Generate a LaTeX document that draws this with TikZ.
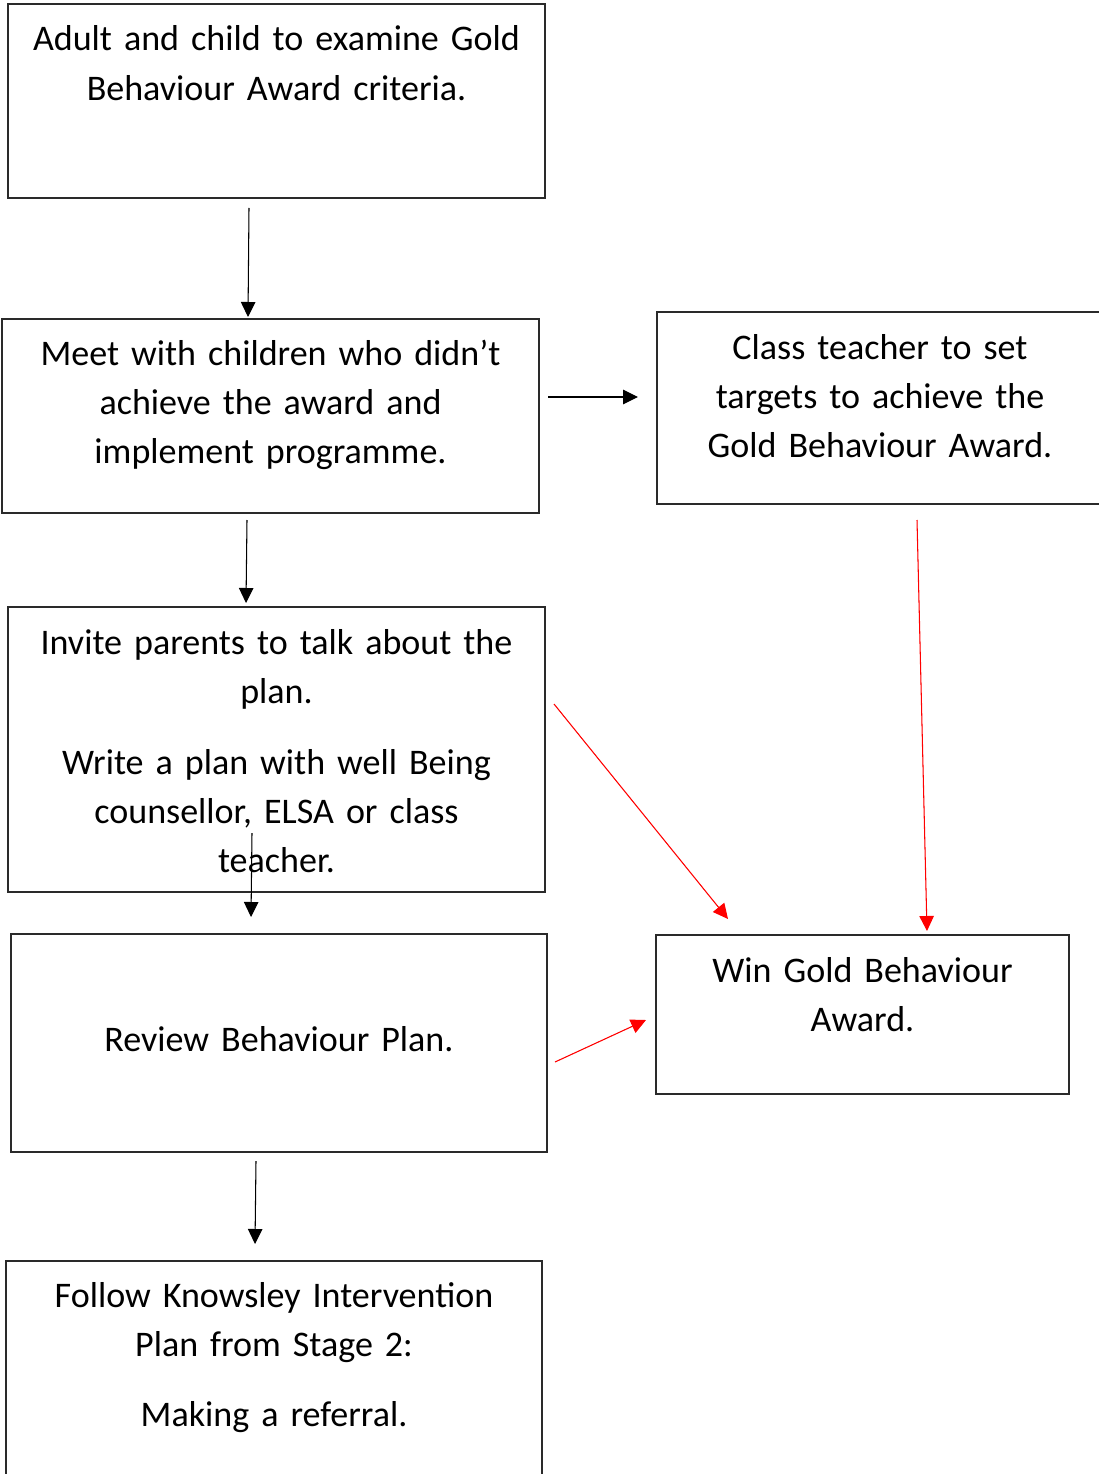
\documentclass[tikz,border=0pt]{standalone}
\usepackage{fontspec}
\setmainfont{Carlito}
\usepackage{tikz}
\usetikzlibrary{arrows.meta}
\definecolor{FlowInk}{HTML}{000000}
\definecolor{FlowRed}{HTML}{FF0000}
\definecolor{BoxLine}{HTML}{2A2A2A}
\tikzset{
  >={Triangle[length=3mm,width=2.9mm]},
  flow/.style={->,line width=0.6pt,draw=FlowInk,fill=FlowInk},
  redflow/.style={->,line width=0.6pt,draw=FlowRed,fill=FlowRed},
  box/.style={draw=BoxLine,line width=0.7pt,inner sep=0pt},
  boxtext/.style={anchor=base,align=center,inner sep=0pt,text width=10.4cm,
    font=\fontsize{20.5}{27.9}\selectfont}
}
\begin{document}
\begin{tikzpicture}
  \useasboundingbox (0,0) rectangle (21.98,-29.48);
  \begin{scope}
    \clip (0,0) rectangle (21.98,-29.48);
    % boxes
    \node[box,minimum width=10.74cm,minimum height=3.88cm] (criteria) at (5.53,-2.02) {};
    \node[box,minimum width=10.74cm,minimum height=3.88cm] (meet) at (5.41,-8.32) {};
    \node[box,minimum width=8.92cm,minimum height=3.84cm] (targets) at (17.6,-8.16) {};
    \node[box,minimum width=10.74cm,minimum height=5.70cm] (parents) at (5.53,-14.99) {};
    \node[box,minimum width=10.72cm,minimum height=4.36cm] (review) at (5.58,-20.86) {};
    \node[box,minimum width=8.26cm,minimum height=3.18cm] (award) at (17.25,-20.29) {};
    \node[box,minimum width=10.72cm,minimum height=4.38cm] (referral) at (5.48,-27.41) {};
  \end{scope}

  % texts
  \node[boxtext] (criteria-txt) at (5.53,-1.02) {Adult and child to examine Gold\\Behaviour Award criteria.};
  \node[boxtext] (meet-txt) at (5.41,-7.30) {Meet with children who didn’t\\achieve the award and\\implement programme.};
  \node[boxtext,text width=8.6cm] (targets-txt) at (17.6,-7.18) {Class teacher to set\\targets to achieve the\\Gold Behaviour Award.};
  \node[boxtext] (parents-txt) at (5.53,-13.08) {Invite parents to talk about the\\plan.\\[0.44cm]Write a plan with well Being\\counsellor, ELSA or class\\teacher.};
  \node[boxtext] (review-txt) at (5.58,-21.02) {Review Behaviour Plan.};
  \node[boxtext,text width=8cm] (award-txt) at (17.25,-19.64) {Win Gold Behaviour\\Award.};
  \node[boxtext] (referral-txt) at (5.48,-26.14) {Follow Knowsley Intervention\\Plan from Stage 2:\\[0.42cm]Making a referral.};

  % connector ends
  \coordinate (c1a) at (4.98,-4.16);   \coordinate (c1b) at (4.96,-6.34);
  \coordinate (c2a) at (10.96,-7.94);  \coordinate (c2b) at (12.76,-7.94);
  \coordinate (c3a) at (4.94,-10.40);  \coordinate (c3b) at (4.92,-12.06);
  \coordinate (c4a) at (5.04,-16.66);  \coordinate (c4b) at (5.02,-18.34);
  \coordinate (c5a) at (5.12,-23.22);  \coordinate (c5b) at (5.10,-24.88);
  \coordinate (r1a) at (11.08,-14.08); \coordinate (r1b) at (14.56,-18.38);
  \coordinate (r2a) at (18.34,-10.40); \coordinate (r2b) at (18.54,-18.62);
  \coordinate (r3a) at (11.10,-21.24); \coordinate (r3b) at (12.92,-20.40);

  \draw[flow] (c1a) -- (c1b);
  \draw[flow] (c2a) -- (c2b);
  \draw[flow] (c3a) -- (c3b);
  \draw[flow] (c4a) -- (c4b);
  \draw[flow] (c5a) -- (c5b);
  \draw[redflow] (r1a) -- (r1b);
  \draw[redflow] (r2a) -- (r2b);
  \draw[redflow] (r3a) -- (r3b);
\end{tikzpicture}
\end{document}
